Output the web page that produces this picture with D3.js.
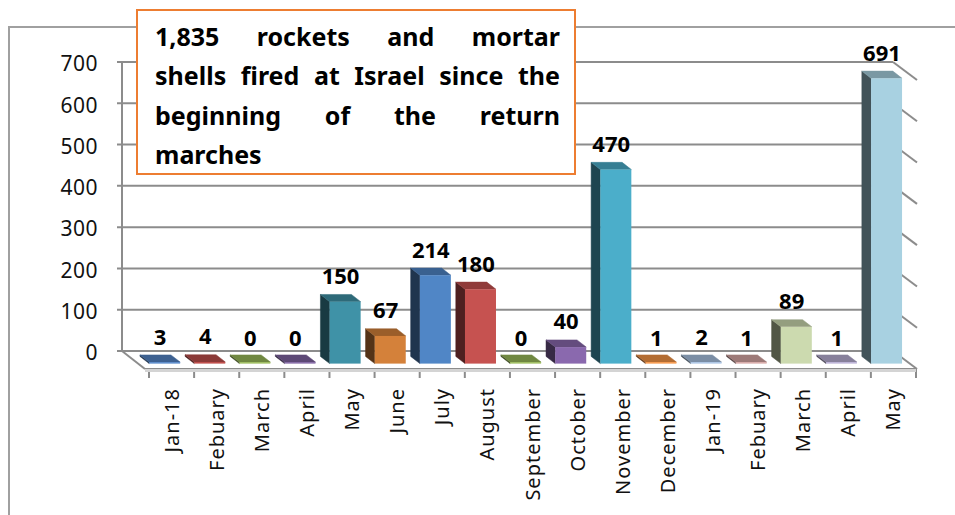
<!DOCTYPE html>
<html>
<head>
<meta charset="utf-8">
<title>Rockets and mortar shells fired at Israel</title>
<script src="https://cdn.jsdelivr.net/npm/d3@7"></script>
<style>
    body { margin: 0; background: #fff; }
    svg { display: block; font-family: "Noto Sans", sans-serif; }
</style>
</head>
<body>
<div id="chart"></div>
<script>
const months = ["Jan-18", "Febuary", "March", "April", "May", "June", "July", "August", "September",
                "October", "November", "December", "Jan-19", "Febuary", "March", "April", "May"];
const rockets = [3, 4, 0, 0, 150, 67, 214, 180, 0, 40, 470, 1, 2, 1, 89, 1, 691];
const barColors = ["#5486c8", "#c0504d", "#9bbb59", "#8064a2", "#3f92a7", "#d4813a", "#5086c6", "#c65250",
                   "#9bbb59", "#8a69ae", "#4baeca", "#f79646", "#aac4e4", "#d8a8a6", "#ccdaaf", "#bab0d6", "#a8d1e1"];
const yTicks = [0, 100, 200, 300, 400, 500, 600, 700];
const titleLines = ["1,835 rockets and mortar", "shells fired at Israel since the", "beginning of the return", "marches"];

const W = 955, H = 515;
const DX = 23, DY = 18;          // back-to-front offset of the 3D floor
const gridColor = "#8c8c8c";

const svg = d3.select("#chart").append("svg")
    .attr("width", W)
    .attr("height", H);

// chart area border
svg.append("rect")
    .attr("x", 9).attr("y", 27)
    .attr("width", W).attr("height", H)
    .attr("fill", "none")
    .attr("stroke", "#a0a0a0")
    .attr("stroke-width", 2);

const x = d3.scaleBand().domain(d3.range(months.length)).range([149, 916]);
const y = d3.scaleLinear().domain([0, 700]).range([351, 62]);

// projection: position on front plane -> depth d (0 back, 1 front)
const px = (xf, d) => xf - (1 - d) * DX;
const py = (yy, d) => yy + d * DY;

const left = x.range()[0] - 4, right = x.range()[1];

// back wall gridlines + side wall diagonals
const grid = svg.append("g").attr("stroke", gridColor).attr("stroke-width", 2).attr("fill", "none");
yTicks.forEach(t => {
    grid.append("line")
        .attr("x1", px(left, 0) - 5).attr("x2", px(right, 0))
        .attr("y1", y(t)).attr("y2", y(t));
    grid.append("line")
        .attr("x1", px(right, 0)).attr("x2", right + 1)
        .attr("y1", y(t)).attr("y2", py(y(t), 1));
});
grid.append("line")
    .attr("x1", px(left, 0)).attr("x2", px(left, 0))
    .attr("y1", y(700)).attr("y2", y(0));

// floor
svg.append("rect")
    .attr("x", left).attr("y", py(y(0), 1))
    .attr("width", right - left).attr("height", 3)
    .attr("fill", "#d4d4d4");
grid.append("line")
    .attr("x1", px(left, 0)).attr("y1", y(0))
    .attr("x2", left).attr("y2", py(y(0), 1));
grid.append("line")
    .attr("x1", left).attr("y1", py(y(0), 1))
    .attr("x2", right + 1).attr("y2", py(y(0), 1));

// category ticks
x.domain().concat([months.length]).forEach(i => {
    const xx = i < months.length ? x(i) : right;
    grid.append("line")
        .attr("x1", xx).attr("x2", xx)
        .attr("y1", py(y(0), 1)).attr("y2", py(y(0), 1) + 9);
});

// y labels
svg.append("g").selectAll("text")
    .data(yTicks).join("text")
    .attr("x", 98)
    .attr("y", d => y(d) + 2)
    .attr("dy", "0.35em")
    .attr("text-anchor", "end")
    .attr("font-size", 21)
    .attr("letter-spacing", 0.5)
    .attr("fill", "#111")
    .text(d => d);

// x labels
svg.append("g").selectAll("text")
    .data(months).join("text")
    .attr("transform", (d, i) => `translate(${x(i) + x.bandwidth() / 2},388) rotate(-90)`)
    .attr("dy", "0.35em")
    .attr("text-anchor", "end")
    .attr("font-size", 20)
    .attr("letter-spacing", 1)
    .attr("fill", "#111")
    .text(d => d);

// 3D bars
const hw = 15.5, d0 = 0.3, d1 = 0.7;
const bars = svg.append("g");
rockets.forEach((v, i) => {
    const cf = x(i) + x.bandwidth() / 2;
    const top = Math.min(y(v), y(0) - 1.5);
    const base = d3.color(barColors[i]);
    const side = base.darker(2.6).formatHex();
    const lid = base.darker(0.9).formatHex();
    const g = bars.append("g");
    const bl = px(cf, d0) - hw, br = px(cf, d0) + hw;
    const fl = px(cf, d1) - hw, fr = px(cf, d1) + hw;
    g.append("polygon")
        .attr("points", [[bl, py(top, d0)], [fl, py(top, d1)], [fl, py(y(0), d1)], [bl, py(y(0), d0)]].join(" "))
        .attr("fill", side).attr("stroke", side).attr("stroke-width", 0.5);
    g.append("polygon")
        .attr("points", [[bl, py(top, d0)], [br, py(top, d0)], [fr, py(top, d1)], [fl, py(top, d1)]].join(" "))
        .attr("fill", lid).attr("stroke", lid).attr("stroke-width", 0.5);
    g.append("rect")
        .attr("x", fl).attr("y", py(top, d1))
        .attr("width", fr - fl).attr("height", py(y(0), d1) - py(top, d1))
        .attr("fill", base.formatHex());
});

// value labels
svg.append("g").selectAll("text")
    .data(rockets).join("text")
    .attr("x", (d, i) => x(i) + x.bandwidth() / 2 - DX * 0.5)
    .attr("y", d => y(d) - 5)
    .attr("text-anchor", "middle")
    .attr("font-size", 22)
    .attr("font-weight", "bold")
    .attr("fill", "#000")
    .text(d => d);

// annotation box with justified text
svg.append("rect")
    .attr("x", 137).attr("y", 10)
    .attr("width", 438).attr("height", 164)
    .attr("fill", "#fff")
    .attr("stroke", "#ed7d31")
    .attr("stroke-width", 2);

const tx0 = 155, tx1 = 560;
const note = svg.append("g")
    .attr("font-size", 25)
    .attr("font-weight", "bold")
    .attr("fill", "#000");
titleLines.forEach((line, li) => {
    const words = line.split(" ");
    const yy = 46 + li * 39.3;
    const nodes = words.map(w => note.append("text").attr("y", yy).text(w));
    const widths = nodes.map(n => n.node().getComputedTextLength());
    const total = d3.sum(widths);
    const last = li === titleLines.length - 1;
    const gap = (last || words.length < 2) ? 7 : (tx1 - tx0 - total) / (words.length - 1);
    let cx = tx0;
    nodes.forEach((n, k) => {
        n.attr("x", cx);
        cx += widths[k] + gap;
    });
});
</script>
</body>
</html>
